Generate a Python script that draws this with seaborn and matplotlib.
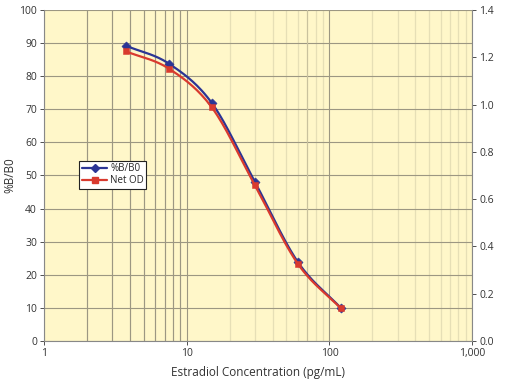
import numpy as np
import pandas as pd
import matplotlib
matplotlib.use("Agg")
import matplotlib.pyplot as plt
import seaborn as sns
from matplotlib.lines import Line2D
from matplotlib.ticker import FuncFormatter, LogLocator, NullFormatter

# ── DATA ─────────────────────────────────────────────
conc = [3.75, 7.5, 15, 30, 60, 120]          # pg/mL
pct_b_b0 = [89.2, 83.8, 71.9, 48.1, 23.9, 10.0]
net_od = [1.225, 1.152, 0.988, 0.660, 0.327, 0.138]

x_ticks = [1, 10, 100, 1000]
x_tick_labels = ["1", "10", "100", "1,000"]
left_ticks = list(range(0, 101, 10))
right_ticks = [0.0, 0.2, 0.4, 0.6, 0.8, 1.0, 1.2, 1.4]

BLUE = "#2b3595"
RED = "#d93a2e"
BG = "#fff7c9"
GRID_DARK = "#9c9782"
GRID_LIGHT = "#e6dfb6"

sns.set_theme(style="white")
plt.rcParams["font.family"] = ["Open Sans", "DejaVu Sans"]


def smooth(xs, ys, n=30):
    # Catmull-Rom curve through the points in log-x space (like Excel smoothing)
    lx = np.log10(xs)
    ys = np.asarray(ys, dtype=float)
    px = np.concatenate([[2 * lx[0] - lx[1]], lx, [2 * lx[-1] - lx[-2]]])
    py = np.concatenate([[2 * ys[0] - ys[1]], ys, [2 * ys[-1] - ys[-2]]])
    outx, outy = [], []
    t = np.linspace(0, 1, n)
    for i in range(1, len(px) - 2):
        for arr, out in ((px, outx), (py, outy)):
            p0, p1, p2, p3 = arr[i - 1], arr[i], arr[i + 1], arr[i + 2]
            out.extend(0.5 * ((2 * p1) + (-p0 + p2) * t
                              + (2 * p0 - 5 * p1 + 4 * p2 - p3) * t ** 2
                              + (-p0 + 3 * p1 - 3 * p2 + p3) * t ** 3))
    return 10 ** np.array(outx), np.array(outy)


fig = plt.figure(figsize=(5.05, 3.84), dpi=100)
ax = fig.add_axes([0.087, 0.112, 0.848, 0.862])
ax.set_facecolor(BG)

# ── LEFT AXIS: %B/B0 ─────────────────────────────────
sx, sy = smooth(conc, pct_b_b0)
sns.lineplot(x=sx, y=sy, ax=ax, color=BLUE, lw=1.6, sort=False, zorder=3)
sns.scatterplot(x=conc, y=pct_b_b0, ax=ax, color=BLUE, marker="D", s=22,
                edgecolor=BLUE, zorder=4)

ax.set_xscale("log")
ax.set_xlim(1, 1000)
ax.set_ylim(0, 100)
ax.set_xticks(x_ticks)
ax.set_xticklabels(x_tick_labels)
ax.xaxis.set_minor_locator(LogLocator(base=10, subs=np.arange(2, 10)))
ax.xaxis.set_minor_formatter(NullFormatter())
ax.set_yticks(left_ticks)

# grid: dark majors, light minors, darker minors in the first decade
ax.grid(which="major", axis="both", color=GRID_DARK, lw=0.8)
ax.grid(which="minor", axis="x", color=GRID_LIGHT, lw=0.9)
for m in range(2, 10):
    ax.axvline(m, color=GRID_DARK, lw=0.8, zorder=0.6)
ax.axvline(70, color="#c9c29e", lw=0.8, zorder=0.6)
ax.set_axisbelow(True)

ax.tick_params(axis="both", which="major", labelsize=7.5, colors="#333333",
               length=3, width=0.6, direction="out", pad=2)
ax.tick_params(axis="x", which="minor", length=0)
ax.tick_params(axis="y", left=True)
ax.tick_params(axis="x", bottom=True)
for side in ["left", "bottom"]:
    ax.spines[side].set_color("#888888")
    ax.spines[side].set_linewidth(0.8)
for side in ["top", "right"]:
    ax.spines[side].set_visible(False)

ax.set_xlabel("Estradiol Concentration (pg/mL)", fontsize=8.5, color="#333333",
              labelpad=5)
ax.set_ylabel("%B/B0", fontsize=8.5, color="#333333", labelpad=2)

# ── RIGHT AXIS: Net OD ───────────────────────────────
ax2 = ax.twinx()
sx2, sy2 = smooth(conc, net_od)
sns.lineplot(x=sx2, y=sy2, ax=ax2, color=RED, lw=1.6, sort=False, zorder=3)
sns.scatterplot(x=conc, y=net_od, ax=ax2, color=RED, marker="s", s=22,
                edgecolor=RED, zorder=4)
ax2.set_ylim(0, 1.4)
ax2.set_yticks(right_ticks)
ax2.yaxis.set_major_formatter(FuncFormatter(lambda v, p: f"{v:.1f}"))
ax2.tick_params(axis="y", labelsize=7.5, colors="#333333", length=3,
                width=0.6, direction="out", pad=2, right=True)
ax2.spines["right"].set_color("#888888")
ax2.spines["right"].set_linewidth(0.8)
for side in ["top", "left", "bottom"]:
    ax2.spines[side].set_visible(False)
# the reference shows this label running off the right edge
ax2.set_ylabel("Net OD", fontsize=8.5, color="#333333", labelpad=13)
ax2.grid(False)

handles = [
    Line2D([], [], color=BLUE, lw=1.6, marker="D", markersize=4),
    Line2D([], [], color=RED, lw=1.6, marker="s", markersize=4),
]
leg = ax2.legend(handles, ["%B/B0", "Net OD"], loc="upper left",
                 bbox_to_anchor=(0.083, 0.545), fontsize=7, frameon=True,
                 fancybox=False, framealpha=1, edgecolor="#222222",
                 handlelength=2.6, borderpad=0.25, labelspacing=0.15,
                 handletextpad=0.3, borderaxespad=0)
leg.get_frame().set_linewidth(0.8)

fig.savefig("out.png", dpi=100)
